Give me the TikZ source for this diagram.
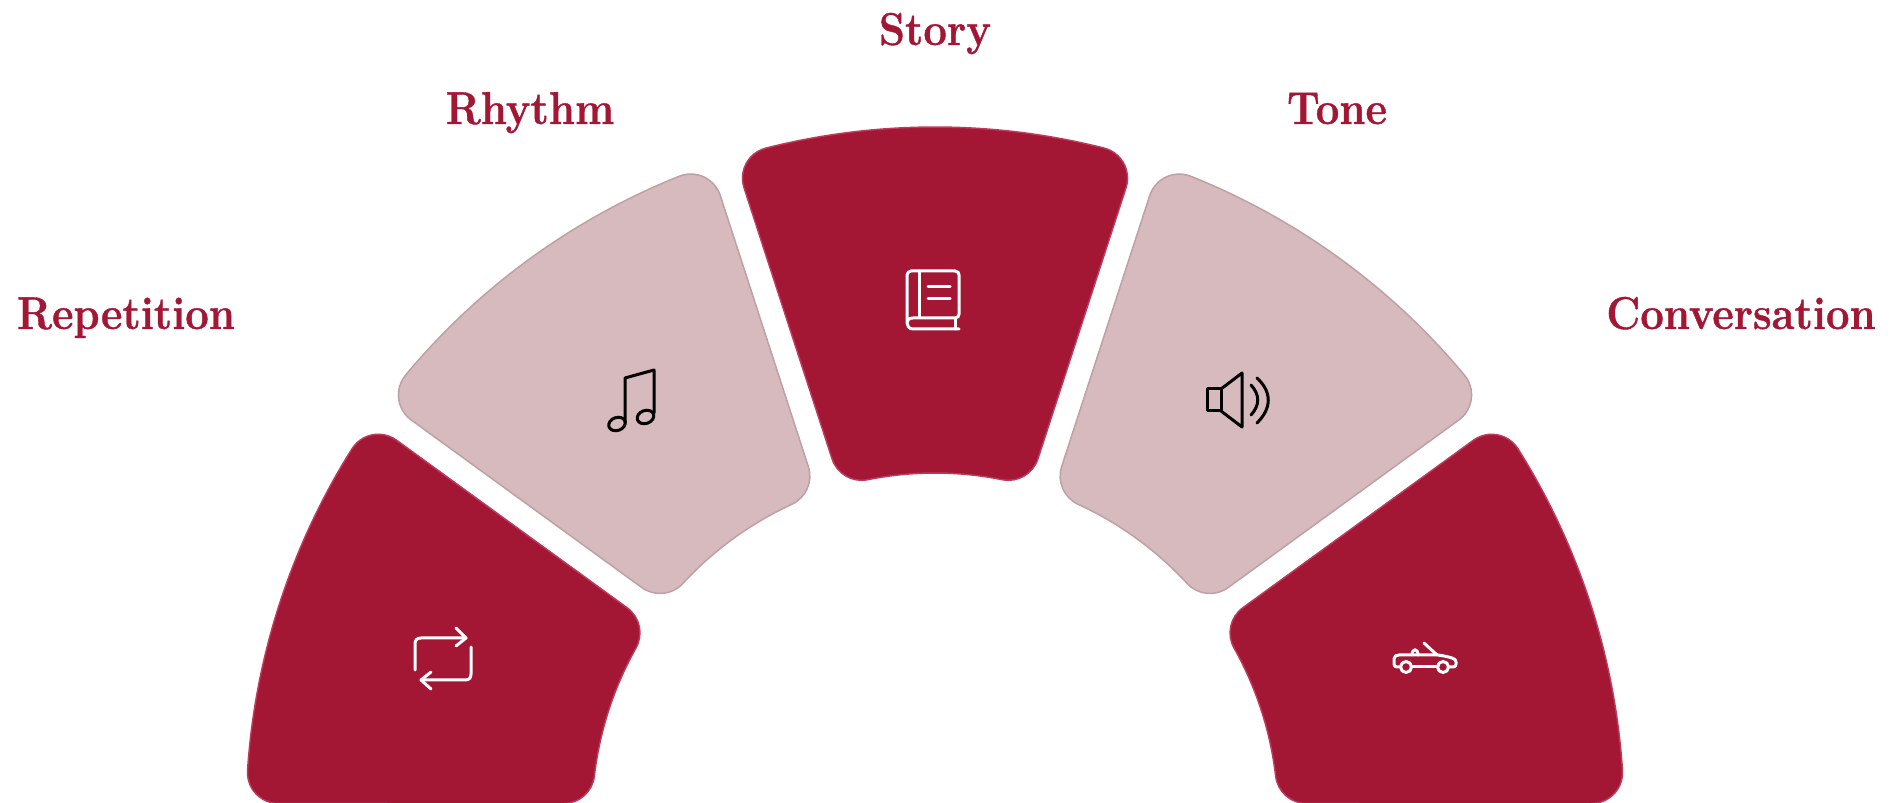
\documentclass[tikz,border=0pt]{standalone}
\usepackage{fontspec}
\setmainfont{Latin Modern Roman}
\newfontfamily\labelfont[FakeStretch=0.91,BoldFeatures={FakeBold=0.8}]{Latin Modern Roman}
\definecolor{crimson}{HTML}{A31634}
\definecolor{crimsonedge}{HTML}{BC3A5A}
\definecolor{blush}{HTML}{D7BABD}
\definecolor{blushedge}{HTML}{BEA0A5}
\tikzset{
  darkwedge/.style={fill=crimson,draw=crimsonedge,line width=1.5pt},
  palewedge/.style={fill=blush,draw=blushedge,line width=1.5pt},
  toplabel/.style={inner sep=0pt,anchor=base,text=crimson,font=\labelfont\fontsize{46}{50}\selectfont\bfseries},
  whiteicon/.style={draw=white,line width=3pt,line cap=round,line join=round},
  blackicon/.style={draw=black,line width=3pt,line cap=round,line join=round}
}
\pgfmathsetmacro{\Rout}{689}
\pgfmathsetmacro{\Rin}{343}
\pgfmathsetmacro{\gap}{12.5}
\pgfmathsetmacro{\rO}{31}
\pgfmathsetmacro{\rI}{31}
\pgfmathsetmacro{\phiO}{asin((\gap+\rO)/(\Rout-\rO))}
\pgfmathsetmacro{\tO}{(\Rout-\rO)*cos(\phiO)}
\pgfmathsetmacro{\aO}{atan(\gap/\tO)}
\pgfmathsetmacro{\radO}{\tO/cos(\aO)}
\pgfmathsetmacro{\phiI}{asin((\gap+\rI)/(\Rin+\rI))}
\pgfmathsetmacro{\tI}{(\Rin+\rI)*cos(\phiI)}
\pgfmathsetmacro{\aI}{atan(\gap/\tI)}
\pgfmathsetmacro{\radI}{\tI/cos(\aI)}
\newcommand{\ringwedge}[2]{%
  \begin{scope}[shift={(935,-13)},rotate=#1]
    \draw[#2] ({108-\aO}:\radO)
      arc[start angle=198,end angle={108-\phiO},radius=\rO]
      arc[start angle={108-\phiO},end angle={72+\phiO},radius=\Rout]
      arc[start angle={72+\phiO},end angle=-18,radius=\rO]
      -- ({72+\aI}:\radI)
      arc[start angle=-18,end angle={-108+\phiI},radius=\rI]
      arc[start angle={72+\phiI},end angle={108-\phiI},radius=\Rin]
      arc[start angle={288-\phiI},end angle=198,radius=\rI]
      -- cycle;
  \end{scope}}
\begin{document}
\begin{tikzpicture}[x=1pt,y=1pt]
  \useasboundingbox (0,0) rectangle (1901,803);
  \fill[white] (0,0) rectangle (1901,803);
  \ringwedge{72}{darkwedge}
  \ringwedge{36}{palewedge}
  \ringwedge{0}{darkwedge}
  \ringwedge{-36}{palewedge}
  \ringwedge{-72}{darkwedge}
  \begin{scope}[shift={(0,803)},yscale=-1]
    \node[toplabel] (story) at (935,45) {Story};
    \node[toplabel] (rhythm) at (530,124) {Rhythm};
    \node[toplabel] (tone) at (1337,124) {Tone};
    \node[toplabel] (repetition) at (126,329) {Repetition};
    \node[toplabel] (conversation) at (1741,329) {Conversation};
    % repeat icon
    \draw[whiteicon] (415,670) -- (415,644) .. controls (415,640) and (417,638) .. (421,638) -- (466,638);
    \draw[whiteicon] (456,628) -- (466,638) -- (456,646);
    \draw[whiteicon] (471,647) -- (471,674) .. controls (471,678) and (469,680) .. (465,680) -- (421,680);
    \draw[whiteicon] (431,672) -- (421,680) -- (431,689);
    % book icon
    \draw[whiteicon] (959,329) -- (913,329) .. controls (909,329) and (907,326) .. (907,323) .. controls (907,320) and (909,318) .. (913,318) -- (955,318) .. controls (958,318) and (959,316) .. (959,314) -- (959,275) .. controls (959,273) and (958,271) .. (955,271) -- (911,271) .. controls (909,271) and (907,273) .. (907,275) -- (907,323);
    \draw[whiteicon] (955,318) -- (955,329);
    \draw[whiteicon] (919,271) -- (919,317);
    \draw[whiteicon] (928,287) -- (950,287);
    \draw[whiteicon] (928,299) -- (950,299);
    % music icon
    \draw[blackicon] (625,423) -- (625,378) -- (654,370) -- (654,413);
    \draw[blackicon] (617,424) ellipse[x radius=8.5,y radius=6.5,rotate=-20];
    \draw[blackicon] (645.5,417) ellipse[x radius=8.5,y radius=6.5,rotate=-20];
    % speaker icon
    \draw[blackicon] (1207,389) rectangle (1221,411);
    \draw[blackicon] (1221,389) -- (1242,373) -- (1242,427) -- (1221,411);
    \draw[blackicon] (1251,385) .. controls (1260,395) and (1260,405) .. (1251,415);
    \draw[blackicon] (1257,378) .. controls (1272,392) and (1272,408) .. (1257,423);
    % car icon
    \draw[whiteicon] (1400,667) -- (1397,667) .. controls (1395,667) and (1394,666) .. (1394,664) -- (1394,659) .. controls (1394,656) and (1396,655) .. (1399,655) -- (1438,655) .. controls (1445,656) and (1449,657) .. (1452,658) .. controls (1455,659) and (1456,660) .. (1456,662) -- (1456,664) .. controls (1456,666) and (1455,667) .. (1453,667) -- (1449,667);
    \draw[whiteicon] (1412,667) -- (1438,667);
    \draw[whiteicon] (1406,667) circle[radius=5.5];
    \draw[whiteicon] (1443,667) circle[radius=5.5];
    \draw[whiteicon] (1424,643) -- (1437,655);
    \draw[whiteicon] (1412,655) .. controls (1412,648) and (1418,648) .. (1418,655);
  \end{scope}
\end{tikzpicture}
\end{document}
